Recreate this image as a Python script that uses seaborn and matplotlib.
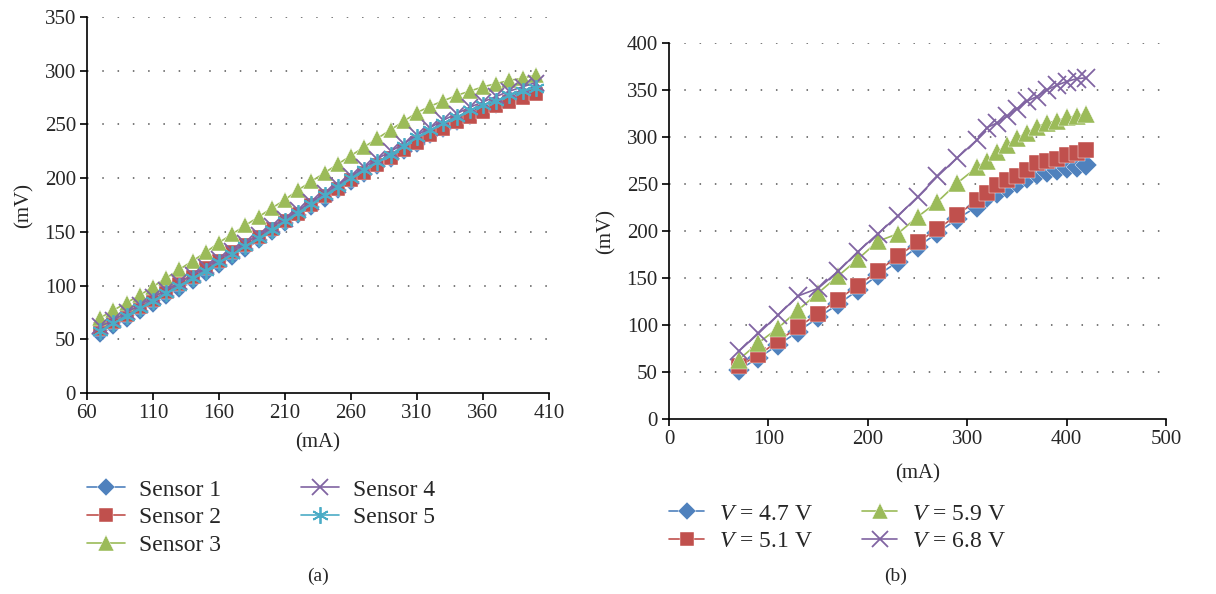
import numpy as np
import pandas as pd
import matplotlib
matplotlib.use("Agg")
import matplotlib.pyplot as plt
import seaborn as sns

# ---------------- data: panel (a) ----------------
x_a = [70, 80, 90, 100, 110, 120, 130, 140, 150, 160, 170, 180, 190, 200, 210, 220, 230,
       240, 250, 260, 270, 280, 290, 300, 310, 320, 330, 340, 350, 360, 370, 380, 390, 400]
sensor1 = [55, 62, 69, 76, 83, 90, 97, 104, 112, 119, 127, 134, 142, 150, 158, 166, 173,
           181, 189, 196, 204, 211, 218, 225, 232, 240, 246, 252, 258, 263, 268, 273, 277, 281]
sensor2 = [60, 66, 73, 80, 87, 94, 101, 108, 116, 123, 131, 138, 145, 153, 160, 167, 175,
           183, 190, 198, 205, 212, 219, 226, 233, 240, 246, 252, 257, 262, 267, 271, 275, 278]
sensor3 = [70, 77, 84, 91, 99, 107, 115, 123, 131, 140, 148, 156, 164, 172, 180, 189, 197,
           205, 213, 221, 229, 237, 245, 253, 261, 267, 272, 277, 281, 285, 288, 291, 293, 296]
sensor4 = [62, 68, 75, 82, 89, 96, 103, 110, 117, 125, 132, 140, 147, 155, 162, 170, 178,
           186, 194, 202, 210, 218, 225, 232, 240, 247, 254, 260, 266, 271, 276, 281, 285, 289]
sensor5 = [58, 65, 72, 79, 86, 93, 100, 107, 114, 122, 129, 137, 144, 152, 160, 168, 176,
           184, 192, 200, 208, 215, 222, 230, 238, 245, 251, 257, 263, 268, 272, 277, 281, 284]
labels_a = ["Sensor 1", "Sensor 2", "Sensor 3", "Sensor 4", "Sensor 5"]
xticks_a = [60, 110, 160, 210, 260, 310, 360, 410]
yticks_a = [0, 50, 100, 150, 200, 250, 300, 350]

# ---------------- data: panel (b) ----------------
x_b = [70, 90, 110, 130, 150, 170, 190, 210, 230, 250, 270, 290, 310,
       320, 330, 340, 350, 360, 370, 380, 390, 400, 410, 420]
v47 = [52, 65, 79, 93, 108, 122, 137, 153, 167, 183, 198, 213, 226,
       236, 240, 246, 251, 256, 261, 263, 265, 267, 268, 270]
v51 = [56, 68, 83, 98, 112, 127, 142, 157, 173, 188, 202, 217, 233,
       240, 249, 254, 259, 265, 272, 275, 277, 281, 283, 286]
v59 = [63, 81, 97, 116, 134, 152, 170, 189, 197, 215, 231, 251, 268,
       275, 284, 291, 299, 304, 311, 315, 317, 321, 322, 325]
v68 = [72, 91, 111, 131, 139, 157, 178, 197, 216, 236, 258, 278, 297,
       310, 315, 322, 330, 338, 343, 350, 355, 359, 362, 363]
labels_b = ["$V$ = 4.7 V", "$V$ = 5.1 V", "$V$ = 5.9 V", "$V$ = 6.8 V"]
xticks_b = [0, 100, 200, 300, 400, 500]
yticks_b = [0, 50, 100, 150, 200, 250, 300, 350, 400]

colors = ["#4F81BD", "#C0504D", "#9BBB59", "#8064A2", "#4BACC6"]
markers = ["D", "s", "^", "x", (6, 2, 0)]

sns.set_theme(style="white")
plt.rcParams["font.family"] = ["Liberation Serif", "DejaVu Serif"]
plt.rcParams["mathtext.fontset"] = "custom"
plt.rcParams["mathtext.it"] = "Liberation Serif:italic"
plt.rcParams["mathtext.rm"] = "Liberation Serif"

W, H = 1216, 594
fig = plt.figure(figsize=(W / 100, H / 100), dpi=100)
ax1 = fig.add_axes([87 / W, 1 - 393 / H, (549 - 87) / W, (393 - 17) / H])
ax2 = fig.add_axes([669 / W, 1 - 419 / H, (1166 - 669) / W, (419 - 43) / H])


def style_axes(ax, xticks, yticks, xpad):
    ax.set_xlim(xticks[0], xticks[-1])
    ax.set_ylim(yticks[0], yticks[-1])
    ax.set_xticks(xticks)
    ax.set_yticks(yticks)
    for s in ["top", "right"]:
        ax.spines[s].set_visible(False)
    for s in ["left", "bottom"]:
        ax.spines[s].set_color("black")
        ax.spines[s].set_linewidth(1.2)
    ax.tick_params(axis="both", direction="out", length=5, width=1.2, color="black",
                   labelsize=15, left=True, bottom=True, pad=3)
    for y in yticks[1:]:
        ax.axhline(y, color="#555555", linewidth=1.1, linestyle=(0, (1, 9)), zorder=0)
    ax.set_xlabel("(mA)", fontsize=15, labelpad=xpad)
    ax.set_ylabel("(mV)", fontsize=15, labelpad=8)


series_a = [sensor1, sensor2, sensor3, sensor4, sensor5]
for i, (vals, lab) in enumerate(zip(series_a, labels_a)):
    ms = {0: 9, 1: 10, 2: 11, 3: 11, 4: 12}[i]
    sns.lineplot(x=x_a, y=vals, ax=ax1, color=colors[i], label=lab, marker=markers[i],
                 markersize=ms, markeredgecolor=colors[i] if i >= 3 else "white",
                 markeredgewidth=1.3 if i >= 3 else 0.3, linewidth=1.2, zorder=3 + i)
style_axes(ax1, xticks_a, yticks_a, 7)

series_b = [v47, v51, v59, v68]
for i, (vals, lab) in enumerate(zip(series_b, labels_b)):
    ms = {0: 11, 1: 12, 2: 13, 3: 13}[i]
    sns.lineplot(x=x_b, y=vals, ax=ax2, color=colors[i], label=lab, marker=markers[i],
                 markersize=ms, markeredgecolor=colors[i] if i >= 3 else "white",
                 markeredgewidth=1.3 if i >= 3 else 0.3, linewidth=1.2, zorder=3 + i)
style_axes(ax2, xticks_b, yticks_b, 11)

leg1 = ax1.legend(loc="upper left", bbox_to_anchor=(87 / W, 1 - 479 / H),
                  bbox_transform=fig.transFigure, ncol=2, frameon=False, borderpad=0,
                  borderaxespad=0, fontsize=17, handlelength=1.6, columnspacing=3.4,
                  labelspacing=0.26, handletextpad=0.6, markerscale=1.0)
leg2 = ax2.legend(loc="upper left", bbox_to_anchor=(669 / W, 1 - 503 / H),
                  bbox_transform=fig.transFigure, ncol=2, frameon=False, borderpad=0,
                  borderaxespad=0, fontsize=17, handlelength=1.5, columnspacing=2.1,
                  labelspacing=0.26, handletextpad=0.6, markerscale=0.85)

fig.text(318 / W, 1 - 576 / H, "(a)", ha="center", va="center", fontsize=14)
fig.text(896 / W, 1 - 576 / H, "(b)", ha="center", va="center", fontsize=14)

fig.savefig("out.png", dpi=100, facecolor="white")
